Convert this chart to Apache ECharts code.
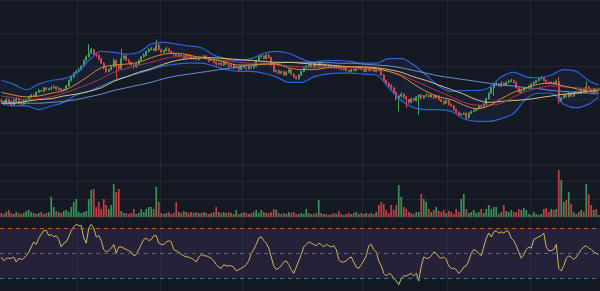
<!DOCTYPE html>
<html><head><meta charset="utf-8">
<script src="https://cdn.jsdelivr.net/npm/echarts@6/dist/echarts.min.js"></script>
<style>html,body{margin:0;padding:0;background:#151924;}#c{width:600px;height:291px;}</style>
</head><body><div id="c"></div>
<script>
const opens = [
72,71,69,73,70,67,72,74,70,68, 71,73,76,78,77,81,83,82,86,84, 85,86,87,84,85,83,84,88,94,98,
102,104,106,110,116,120,124,128,123,122, 118,113,108,104,106,109,116,110,107,118, 121,116,114,111,109,112,116,120,122,126,
128,129,127,133,128,125,127,129,126,124, 123,121,122,121,119,122,120,118,119,117, 120,119,121,118,116,117,114,112,113,111,
114,112,110,111,108,109,106,110,108,107, 109,108,110,116,120,121,118,122,119,111, 104,105,102,104,100,103,106,101,98,96,
100,104,108,110,112,109,113,110,114,110, 112,110,111,109,108,110,107,106,108,105, 104,106,105,107,108,106,104,107,105,106,
104,106,105,100,94,91,88,86,81,74, 77,79,76,73,70,74,72,76,78,75, 77,78,76,78,75,77,73,71,69,72,
68,66,62,59,56,57,58,53,58,60, 61,63,66,65,68,74,80,86,89,90, 88,91,89,92,93,94,92,86,81,83,
85,86,87,90,92,94,96,97,94,92, 91,92,90,93,71,75,78,76,80,77, 81,82,80,84,82,87,84,82,85,84];
const closes = [
71,69,73,70,67,72,74,70,68,71, 73,76,78,77,81,83,82,86,84,85, 86,87,84,85,83,84,88,94,98,102,
104,106,110,116,120,124,128,123,122,118, 113,108,104,106,109,116,110,107,118,121, 116,114,111,109,112,116,120,122,126,128,
129,127,133,128,125,127,129,126,124,123, 121,122,121,119,122,120,118,119,117,120, 119,121,118,116,117,114,112,113,111,114,
112,110,111,108,109,106,110,108,107,109, 108,110,116,120,121,118,122,119,111,104, 105,102,104,100,103,106,101,98,96,100,
104,108,110,112,109,113,110,114,110,112, 110,111,109,108,110,107,106,108,105,104, 106,105,107,108,106,104,107,105,106,104,
106,105,100,94,91,88,86,81,74,77, 79,76,73,70,74,72,76,78,75,77, 78,76,78,75,77,73,71,69,72,68,
66,62,59,56,57,58,53,58,60,61, 63,66,65,68,74,80,86,89,90,88, 91,89,92,93,94,92,86,81,83,85,
86,87,90,92,94,96,97,94,92,91, 92,90,93,71,75,78,76,80,77,81, 82,80,84,82,87,84,82,85,84,85];
const highs = [
74,72,75,74,72,74,76,75,72,73, 74,77,79,79,82,85,84,87,87,86, 88,89,88,87,86,85,89,95,100,103,
106,108,111,117,122,134,130,129,125,123, 119,114,109,107,110,118,117,111,129,123, 122,118,115,112,113,117,121,124,127,130,
131,130,139,134,129,128,131,130,127,125, 124,123,124,122,123,123,121,120,120,121, 121,122,122,119,118,118,115,114,114,115,
115,113,112,112,110,110,111,111,109,110, 110,111,117,121,123,122,124,123,120,112, 106,106,105,105,104,107,107,102,99,101,
105,109,111,113,113,114,114,116,115,113, 113,112,112,110,111,111,108,109,109,106, 107,107,108,109,109,107,108,108,107,107,
107,107,106,101,95,92,90,87,82,78, 81,80,77,74,75,75,77,79,79,78, 80,79,79,79,78,78,74,72,73,73,
69,67,63,60,58,59,59,59,61,62, 64,67,67,69,75,81,87,91,92,91, 93,92,93,95,96,95,93,87,84,86,
87,89,91,93,95,98,99,98,95,93, 93,93,95,98,76,79,80,81,81,82, 83,83,85,85,93,88,85,86,86,86];
const lows = [
69,67,68,68,65,66,70,68,66,67, 70,72,75,76,76,80,81,81,83,83, 83,85,83,83,81,82,83,87,93,97,
101,103,105,109,115,119,123,121,120,116, 112,106,102,103,105,108,96,105,106,117, 115,113,110,107,108,111,115,119,121,125,
127,126,126,127,124,124,126,125,123,121, 120,120,120,117,118,119,117,117,116,116, 118,118,117,114,115,113,110,111,110,110,
111,108,109,106,107,104,105,107,105,106, 107,107,109,115,119,117,117,118,110,103, 102,101,101,99,99,102,100,97,95,95,
99,103,107,109,108,108,109,109,109,109, 109,109,108,107,107,106,105,105,104,103, 103,104,104,106,105,103,103,104,104,103,
103,104,99,93,89,86,84,79,72,60, 75,74,64,68,69,71,71,56,73,74, 76,75,75,74,74,72,70,67,68,66,
65,61,57,54,55,56,51,52,57,59, 60,62,63,64,67,73,79,77,88,87, 87,88,88,91,92,91,85,80,80,82,
84,85,86,89,91,93,95,93,91,90, 90,89,89,68,70,74,75,75,76,76, 80,79,79,81,81,83,81,81,83,83];
const volumes = [
4,3,5,7,4,3,5,4,3,4, 6,7,5,4,3,4,5,3,4,5, 20,10,6,5,4,6,7,5,10,15,
18,5,4,5,6,18,27,28,10,15, 8,18,12,8,12,33,25,28,6,4, 4,3,4,8,3,4,8,5,8,10,
10,8,30,15,4,3,4,5,3,4, 15,5,4,6,5,4,5,4,5,4, 4,5,4,3,4,5,10,5,4,5,
4,5,4,3,7,3,4,5,4,3, 4,5,7,4,7,5,4,4,5,8, 7,4,3,4,3,5,4,5,3,3,
4,3,8,4,3,3,4,17,4,3, 3,2,3,4,3,6,3,2,3,4, 3,4,5,3,4,3,4,3,4,3,
5,12,15,13,7,4,12,7,12,32, 20,10,8,5,4,3,5,5,23,18, 15,8,5,7,10,6,5,7,4,6,
5,3,8,5,18,23,8,4,5,7, 4,5,8,4,8,12,8,10,10,3, 5,12,6,5,7,5,5,8,7,9,
7,3,2,5,3,2,3,8,9,5, 8,7,8,47,37,15,17,25,13,5, 3,5,7,5,33,23,12,7,8,2];
const rsi = [
47,44,46,46,46,47,43,46,45,46, 48,51,55,59,57,62,65,68,68,64, 65,63,64,61,55,58,59,63,68,71,
73,72,72,62,58,70,73,70,63,64, 60,53,51,52,54,57,50,55,55,54, 53,52,51,48,49,53,57,61,62,60,
61,64,64,58,57,57,59,60,59,53, 52,51,49,48,47,47,46,45,43,47, 49,48,48,47,46,44,41,39,38,41,
40,40,40,39,36,37,38,39,41,44, 50,53,57,62,63,60,58,54,47,40, 37,38,40,43,44,41,37,34,39,44,
49,55,57,59,58,57,56,58,57,55, 57,56,55,56,53,45,43,43,44,46, 47,43,39,38,41,44,48,56,57,53,
51,44,40,34,32,34,33,30,28,25, 30,32,32,33,34,32,34,28,40,47, 46,46,48,51,50,47,46,47,45,40,
38,38,37,34,36,39,40,44,50,53, 52,50,48,55,62,66,63,67,68,66, 67,66,68,67,62,60,56,51,46,49,
53,55,54,61,62,63,64,66,55,52, 52,53,57,38,36,40,46,48,47,45, 47,50,53,55,56,54,53,51,50,49];

// overlay lines read at every 5th candle
const lineIdx = [0,5,10,15,20,25,30,35,40,45,50,55,60,65,70,75,80,85,90,95,100,105,110,115,120,125,130,135,140,145,150,155,160,165,170,175,180,185,190,195,200,205,210,215,220,225,230,235,239];
const bbUpper = [94,90,84,90,94,96,102,116,126,125,123,125,134,136,134,132,130,122,118,116,118,124,126,124,118,114,116,116,115,113,113,118,118,111,100,88,82,83,83,86,98,103,98,97,100,106,104,94,89];
const bbLower = [69,66,66,62,66,70,78,82,88,94,98,102,106,110,112,113,113,110,106,104,104,102,98,92,92,98,101,102,102,101,100,86,72,64,62,62,60,52,49,49,52,58,74,80,80,68,64,68,76];
const maFast = [81,78,76,77,80,83,90,99,108,111,112,114,119,123,124,122,119,117,114,111,111,112,112,108,106,106,108,109,109,108,107,104,99,90,82,76,73,67,63,66,74,81,86,90,91,88,85,82,81];
const maMid = [77,75,73,74,76,80,85,90,96,103,107,111,114,118,120,120,119,117,116,114,113,113,111,110,109,108,108,108,108,107,106,104,100,94,88,82,76,70,67,67,69,76,82,86,88,87,86,85,84];
const maSlow = [69,69,71,73,74,77,79,82,86,93,98,103,107,112,116,118,119,119,118,117,116,115,114,114,113,112,111,110,109,109,108,106,103,98,94,89,84,79,73,70,71,72,73,75,77,79,80,82,83];
const maLong = [71,70,69,69,70,71,73,76,79,83,86,89,92,96,99,101,103,105,107,109,111,112,113,114,114,114,114,113,113,112,111,110,108,105,102,99,97,95,93,91,89,88,86,85,83,82,81,80,79];
const rsiLevels = [70, 50, 30];

const categories = closes.map((_, i) => String(i + 1));
const splitIdx = [31, 64, 97, 145, 179, 212];

const UP = '#3fa35c', DOWN = '#d8434a';
const gridLine = 'rgba(255,255,255,0.055)';

function xAxisFor(g) {
  return {
    type: 'category', gridIndex: g, data: categories, boundaryGap: true,
    axisLine: {show: false}, axisTick: {show: false}, axisLabel: {show: false},
    splitLine: {show: true, interval: (i) => splitIdx.indexOf(i) >= 0, lineStyle: {color: gridLine, width: 1}}
  };
}
function lineSeries(name, arr, color, width) {
  return {
    name, type: 'line', xAxisIndex: 0, yAxisIndex: 0,
    data: lineIdx.map((ix, k) => [ix, arr[k]]),
    showSymbol: false, smooth: 0.35, silent: true, z: 4,
    lineStyle: {color, width}
  };
}

const chart = echarts.init(document.getElementById('c'), null, {renderer: 'canvas'});
chart.setOption({
  animation: false,
  backgroundColor: '#151924',
  grid: [
    {left: 0, right: 0, top: -16.5, height: 182.5},
    {left: 0, right: 0, top: 164, height: 53},
    {left: 0, right: 0, top: 215.5, height: 76.5}
  ],
  xAxis: [xAxisFor(0), xAxisFor(1), xAxisFor(2)],
  yAxis: [
    {gridIndex: 0, type: 'value', min: 0, max: 182.5, interval: 36.5,
     axisLine: {show: false}, axisTick: {show: false}, axisLabel: {show: false},
     splitLine: {show: true, lineStyle: {color: gridLine}}},
    {gridIndex: 1, type: 'value', min: 0, max: 53, interval: 53 / 3,
     axisLine: {show: false}, axisTick: {show: false}, axisLabel: {show: false},
     splitLine: {show: true, lineStyle: {color: gridLine}}},
    {gridIndex: 2, type: 'value', min: 20, max: 80,
     axisLine: {show: false}, axisTick: {show: false}, axisLabel: {show: false},
     splitLine: {show: false}}
  ],
  series: [
    {
      type: 'custom', xAxisIndex: 0, yAxisIndex: 0, silent: true, z: 1,
      data: [[0, 0]],
      renderItem: function (params, api) {
        const pts = [];
        lineIdx.forEach((ix, k) => pts.push(api.coord([ix, bbUpper[k]])));
        for (let k = lineIdx.length - 1; k >= 0; k--) pts.push(api.coord([lineIdx[k], bbLower[k]]));
        return {type: 'polygon', shape: {points: pts, smooth: 0.3},
                style: {fill: 'rgba(60,110,230,0.07)'}};
      }
    },
    {
      type: 'candlestick', xAxisIndex: 0, yAxisIndex: 0, z: 3,
      data: opens.map((o, i) => [o, closes[i], lows[i], highs[i]]),
      barWidth: '70%',
      itemStyle: {color: UP, color0: DOWN, borderColor: UP, borderColor0: DOWN, borderWidth: 1}
    },
    lineSeries('BB Upper', bbUpper, '#2f62d6', 1.2),
    lineSeries('BB Lower', bbLower, '#2f62d6', 1.2),
    lineSeries('MA Long', maLong, '#6d8fd0', 1),
    lineSeries('MA Slow', maSlow, '#d8c27c', 1),
    lineSeries('MA Mid', maMid, '#b3334f', 1),
    lineSeries('MA Fast', maFast, '#e0892c', 1),
    {
      type: 'bar', xAxisIndex: 1, yAxisIndex: 1, barWidth: '70%',
      data: volumes.map((v, i) => ({value: v, itemStyle: {color: closes[i] >= opens[i] ? '#3b9153' : '#c63e45'}}))
    },
    {
      type: 'line', xAxisIndex: 2, yAxisIndex: 2, data: rsi, showSymbol: false, silent: true,
      lineStyle: {color: '#d4b65a', width: 1},
      markArea: {silent: true, itemStyle: {color: 'rgba(126,87,194,0.14)'},
                 data: [[{yAxis: rsiLevels[2]}, {yAxis: rsiLevels[0]}]]},
      markLine: {silent: true, symbol: 'none', label: {show: false},
                 data: [
                   {yAxis: rsiLevels[0], lineStyle: {color: '#a8652c', type: [4, 4], width: 1}},
                   {yAxis: rsiLevels[1], lineStyle: {color: '#5d6170', type: [4, 4], width: 1}},
                   {yAxis: rsiLevels[2], lineStyle: {color: '#2f7f8f', type: [4, 4], width: 1}}
                 ]}
    }
  ]
});
</script>
</body></html>
